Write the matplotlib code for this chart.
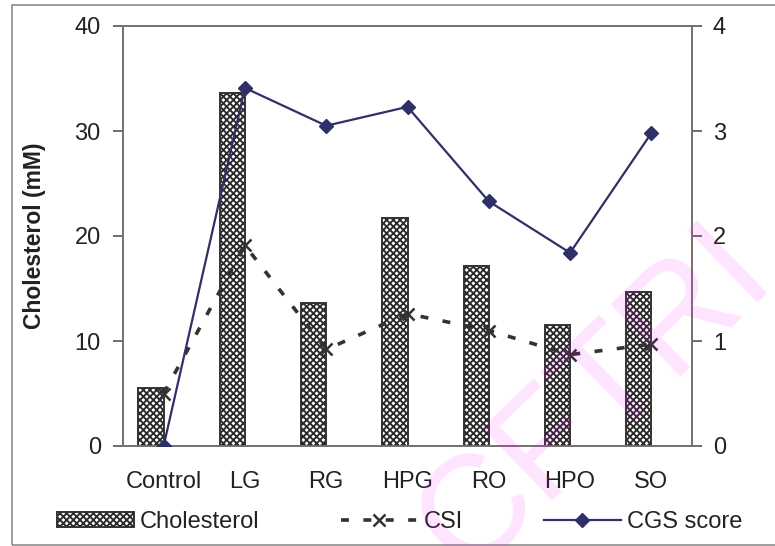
import numpy as np
import matplotlib
matplotlib.use('Agg')
import matplotlib.pyplot as plt
from matplotlib.patches import Rectangle

plt.rcParams['font.family'] = ['Liberation Sans', 'DejaVu Sans']
plt.rcParams['hatch.linewidth'] = 1.35

groups = ['Control', 'LG', 'RG', 'HPG', 'RO', 'HPO', 'SO']
cholesterol = [5.55, 33.6, 13.65, 21.7, 17.1, 11.5, 14.7]
csi = [0.50, 1.91, 0.92, 1.26, 1.10, 0.87, 0.97]
cgs_score = [0.0, 3.41, 3.05, 3.23, 2.33, 1.84, 2.98]

fig = plt.figure(figsize=(7.75, 5.46), dpi=100, facecolor='white')
ax = fig.add_axes([123 / 775, 1 - 446 / 546, 569 / 775, 420 / 546])
ax2 = ax.twinx()

x = np.arange(len(groups))
bw = 0.31

# patterned bars: fine dark cross-hatch on white, then a dark outline on top
b_fill = ax.bar(x, cholesterol, width=-bw, align='edge', color='white',
                edgecolor='#2a2a2a', hatch='xxxxx', linewidth=0, zorder=2)
b_edge = ax.bar(x, cholesterol, width=-bw, align='edge', fill=False,
                edgecolor='#333333', linewidth=1.4, zorder=3)

l_csi, = ax2.plot(x, csi, color='#333333', linewidth=2.6, marker='x',
                  markersize=9, markeredgewidth=1.8, zorder=4)
l_csi.set_dashes([2.2, 4.0])
l_cgs, = ax2.plot(x, cgs_score, color='#2e3068', linewidth=1.6, marker='D',
                  markersize=7, zorder=5)

ax.set_xlim(-0.5, len(groups) - 0.5)
ax.set_ylim(0, 40)
ax2.set_ylim(0, 4)
ax.set_yticks([0, 10, 20, 30, 40])
ax2.set_yticks([0, 1, 2, 3, 4])
ax.set_xticks(x)
ax.set_xticklabels(groups)

ax.tick_params(axis='x', length=0, pad=18, labelsize=17, colors='#222222')
ax.tick_params(axis='y', length=7, width=1.2, pad=9, labelsize=17,
               color='#555555', labelcolor='#222222')
ax2.tick_params(axis='y', length=7, width=1.2, pad=8, labelsize=17,
                color='#555555', labelcolor='#222222')

for a in (ax, ax2):
    for s in a.spines.values():
        s.set_color('#7a7070')
        s.set_linewidth(1.3)

ax.set_ylabel('Cholesterol (mM)', fontsize=16.5, fontweight='bold',
              color='#222222')
ax.yaxis.set_label_coords(-0.135, 0.5)

leg = fig.legend([(b_fill[0], b_edge[0]), l_csi, l_cgs],
                 ['Cholesterol', 'CSI', 'CGS score'],
                 loc='center left', bbox_to_anchor=(57 / 775, 1 - 522 / 546),
                 ncol=3, frameon=False, fontsize=17, borderpad=0,
                 borderaxespad=0, handlelength=3.25, handleheight=0.62,
                 handletextpad=0.25, columnspacing=3.45)
for t in leg.get_texts():
    t.set_color('#222222')

# outer frame
fig.patches.append(Rectangle((12 / 775, 1 / 546), 1.0, 540 / 546,
                             transform=fig.transFigure, fill=False,
                             edgecolor='#8c8c8c', linewidth=1.2))

fig.text(595 / 775, 1 - 400 / 546, 'CFTRI', fontsize=105, color='#ff00ff',
         alpha=0.11, rotation=44, ha='center', va='center', zorder=10)

fig.savefig('out.png', dpi=100, facecolor='white')
